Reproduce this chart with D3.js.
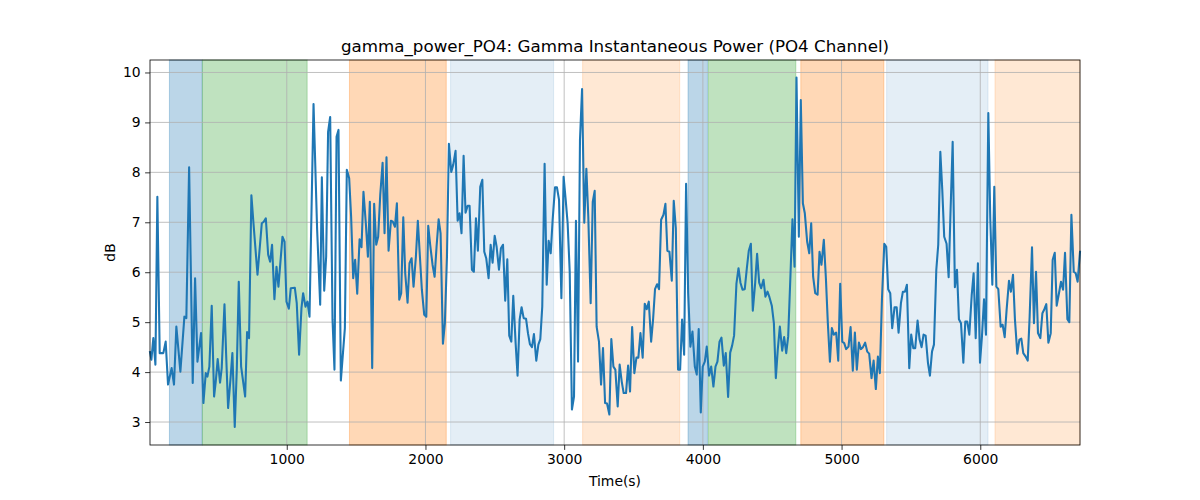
<!DOCTYPE html>
<html>
<head>
<meta charset="utf-8">
<script src="https://cdn.jsdelivr.net/npm/d3@7"></script>
<style>
  html, body { margin: 0; padding: 0; background: #fff; }
  svg { display: block; font-family: "DejaVu Sans", sans-serif; }
</style>
</head>
<body>
<div id="chart"></div>
<script>
// ========== DATA ==========
const times = [
  14, 24, 38, 53, 67, 84, 110, 127, 144, 170, 187, 204, 233, 262, 276, 296, 322, 339, 356, 382,
  399, 416, 428, 442, 459, 476, 488, 502, 519, 531, 551, 563, 577, 594, 608, 625, 640, 654, 671, 700,
  714, 728, 745, 760, 789, 820, 834, 849, 866, 880, 894, 911, 926, 940, 969, 984, 998, 1015, 1029, 1058,
  1072, 1089, 1106, 1118, 1135, 1149, 1164, 1193, 1219, 1241, 1253, 1270, 1284, 1298, 1313, 1330, 1344, 1359, 1373, 1390,
  1419, 1433, 1450, 1464, 1479, 1493, 1508, 1525, 1539, 1553, 1570, 1585, 1599, 1616, 1630, 1645, 1659, 1674, 1691, 1705,
  1719, 1734, 1751, 1765, 1780, 1794, 1811, 1825, 1840, 1854, 1871, 1885, 1900, 1914, 1931, 1945, 1960, 1974, 1991, 2006,
  2020, 2034, 2051, 2066, 2080, 2095, 2109, 2126, 2140, 2155, 2169, 2186, 2200, 2217, 2232, 2246, 2260, 2275, 2289, 2304,
  2318, 2335, 2349, 2364, 2378, 2395, 2410, 2424, 2438, 2455, 2470, 2484, 2499, 2513, 2530, 2544, 2559, 2575, 2590, 2604,
  2619, 2633, 2650, 2664, 2679, 2693, 2708, 2725, 2739, 2753, 2768, 2782, 2799, 2814, 2828, 2842, 2859, 2874, 2888, 2903,
  2917, 2934, 2948, 2963, 2980, 2996, 3011, 3025, 3040, 3056, 3071, 3085, 3100, 3114, 3129, 3145, 3160, 3174, 3191, 3206,
  3220, 3234, 3251, 3266, 3280, 3295, 3309, 3326, 3340, 3355, 3369, 3386, 3400, 3415, 3429, 3446, 3461, 3475, 3490, 3506,
  3521, 3535, 3550, 3566, 3581, 3595, 3610, 3627, 3641, 3655, 3670, 3684, 3699, 3716, 3730, 3744, 3759, 3776, 3790, 3805,
  3821, 3836, 3850, 3865, 3879, 3894, 3910, 3925, 3942, 3956, 3970, 3985, 3999, 4014, 4028, 4045, 4060, 4076, 4091, 4105,
  4120, 4134, 4151, 4165, 4182, 4197, 4211, 4225, 4242, 4257, 4271, 4286, 4302, 4317, 4331, 4346, 4360, 4377, 4391, 4406,
  4420, 4437, 4451, 4466, 4480, 4497, 4512, 4526, 4540, 4555, 4572, 4586, 4601, 4615, 4632, 4646, 4661, 4675, 4692, 4706,
  4721, 4735, 4752, 4767, 4781, 4795, 4810, 4827, 4841, 4855, 4872, 4887, 4901, 4916, 4930, 4944, 4961, 4976, 4990, 5005,
  5019, 5033, 5050, 5065, 5081, 5096, 5110, 5125, 5139, 5154, 5170, 5185, 5199, 5216, 5231, 5247, 5262, 5276, 5291, 5308,
  5322, 5336, 5351, 5365, 5382, 5397, 5411, 5428, 5442, 5457, 5471, 5488, 5502, 5517, 5531, 5548, 5562, 5577, 5591, 5606,
  5623, 5637, 5652, 5666, 5683, 5697, 5712, 5726, 5740, 5757, 5772, 5786, 5801, 5817, 5832, 5846, 5861, 5878, 5892, 5906,
  5921, 5938, 5952, 5967, 5983, 5998, 6012, 6027, 6041, 6058, 6072, 6087, 6101, 6116, 6130, 6147, 6161, 6176, 6190, 6207,
  6221, 6236, 6250, 6267, 6282, 6296, 6310, 6327, 6342, 6356, 6373, 6387, 6402, 6416, 6433, 6448, 6462, 6476, 6491, 6508,
  6522, 6537, 6551, 6568, 6582, 6597, 6611, 6628, 6642, 6657, 6674, 6688, 6702, 6719
];

const power = [
  4.40, 4.25, 4.68, 4.15, 7.51, 4.38, 4.38, 4.61, 3.75, 4.08, 3.75, 4.91, 4.01, 5.11, 5.08, 8.10, 3.78, 5.88, 4.21, 4.78,
  3.38, 3.98, 3.91, 4.11, 5.33, 3.51, 3.81, 4.26, 3.79, 4.08, 5.36, 4.35, 3.28, 3.85, 4.38, 2.90, 4.08, 5.81, 4.11, 3.51,
  4.80, 4.68, 7.54, 6.98, 5.95, 6.98, 7.01, 7.08, 6.35, 6.21, 6.55, 5.46, 6.11, 5.71, 6.71, 6.61, 5.41, 5.27, 5.68, 5.69,
  5.38, 4.35, 5.28, 5.58, 5.31, 5.41, 5.11, 9.37, 6.85, 5.35, 7.90, 5.63, 6.31, 8.81, 9.11, 5.05, 4.05, 8.71, 8.85, 3.83,
  4.88, 8.05, 7.88, 7.11, 5.88, 6.25, 5.57, 6.66, 6.50, 7.61, 6.98, 6.31, 7.41, 4.08, 7.37, 6.55, 6.71, 7.55, 8.19, 6.78,
  8.30, 6.43, 7.03, 7.01, 6.91, 7.38, 5.45, 5.58, 7.10, 5.98, 5.39, 6.18, 6.28, 5.71, 6.31, 7.03, 6.31, 5.65, 5.15, 5.11,
  6.93, 6.55, 6.15, 5.91, 6.51, 7.06, 6.78, 4.57, 4.98, 6.31, 8.57, 8.01, 8.15, 8.43, 7.03, 7.18, 6.78, 8.33, 7.19, 7.33,
  7.33, 6.05, 6.01, 7.08, 6.43, 7.71, 7.85, 6.41, 6.28, 5.88, 6.55, 6.19, 6.73, 6.51, 6.05, 6.48, 6.55, 5.43, 6.26, 4.73,
  4.61, 5.53, 4.58, 3.93, 5.05, 5.30, 5.08, 5.07, 4.78, 4.56, 4.50, 4.76, 4.23, 4.55, 4.66, 5.31, 8.17, 5.75, 6.63, 6.38,
  7.05, 7.70, 7.70, 7.45, 5.48, 7.91, 7.45, 6.98, 6.01, 3.25, 3.51, 7.03, 4.21, 8.65, 9.67, 6.99, 8.07, 7.11, 5.38, 7.41,
  7.63, 4.91, 4.61, 3.75, 4.48, 3.38, 3.37, 3.15, 4.66, 4.11, 4.05, 3.31, 4.15, 3.81, 3.58, 3.58, 4.13, 3.61, 4.90, 3.98,
  4.29, 4.29, 4.78, 4.29, 5.37, 5.26, 5.41, 4.61, 5.05, 5.66, 5.76, 5.66, 7.05, 7.15, 7.37, 6.43, 6.41, 5.83, 7.43, 6.88,
  4.05, 4.05, 5.05, 4.35, 7.77, 5.58, 4.51, 4.81, 4.11, 3.95, 4.86, 3.19, 4.11, 4.21, 4.51, 3.93, 4.11, 3.71, 4.11, 4.21,
  4.61, 4.69, 4.13, 4.38, 3.50, 4.39, 4.53, 4.73, 5.77, 6.08, 5.79, 5.65, 5.66, 6.08, 6.43, 6.57, 5.23, 5.78, 6.37, 5.79,
  5.68, 5.85, 5.51, 5.61, 5.50, 5.33, 4.98, 3.88, 4.45, 4.91, 4.43, 4.70, 4.38, 4.71, 5.98, 7.06, 6.11, 9.90, 6.71, 9.45,
  7.38, 7.18, 6.61, 6.38, 6.98, 5.91, 5.58, 5.55, 6.41, 6.15, 6.65, 5.88, 4.98, 4.21, 4.88, 4.75, 4.79, 4.23, 5.77, 4.61,
  4.58, 4.46, 4.51, 4.90, 4.03, 4.79, 4.05, 4.59, 4.46, 4.50, 4.59, 4.41, 4.37, 3.88, 4.23, 3.66, 4.31, 3.98, 5.45, 6.57,
  6.51, 5.66, 5.58, 4.88, 5.30, 5.30, 4.79, 5.38, 5.61, 5.61, 5.75, 4.08, 4.75, 4.48, 4.48, 5.03, 4.66, 4.50, 4.75, 4.73,
  4.18, 3.93, 4.41, 4.55, 6.05, 6.55, 8.41, 7.65, 6.71, 6.57, 5.90, 7.25, 8.61, 5.70, 6.05, 5.06, 4.98, 4.19, 5.01, 5.01,
  4.75, 5.53, 5.98, 4.68, 6.18, 4.19, 4.71, 5.46, 4.75, 9.19, 7.08, 5.75, 7.71, 5.71, 5.66, 4.91, 4.95, 4.70, 5.25, 5.83,
  5.61, 5.95, 5.05, 4.37, 4.65, 4.67, 4.38, 4.31, 4.23, 5.11, 6.50, 4.98, 6.01, 4.78, 4.68, 5.18, 5.26, 5.36, 4.59, 4.78,
  6.25, 6.39, 5.33, 5.59, 5.81, 5.65, 6.39, 5.06, 5.00, 7.15, 6.01, 5.98, 5.81, 6.41
];

// shaded segments (start / end in seconds, and which kind of segment)
const bandStart = [154, 392, 1452, 2181, 3133, 3893, 4040, 4706, 5325, 6106];
const bandEnd   = [390, 1147, 2150, 2924, 3833, 4033, 4670, 5305, 6056, 6719];
const bandKind  = ["A", "B", "C", "D", "E", "A", "B", "C", "D", "E"];

const xTicks = [1000, 2000, 3000, 4000, 5000, 6000];
const yTicks = [3, 4, 5, 6, 7, 8, 9, 10];

// ========== STYLE ==========
const kindColor = { A: "#1f77b4", B: "#2ca02c", C: "#ff7f0e", D: "#1f77b4", E: "#ff7f0e" };
const kindAlpha = { A: 0.3, B: 0.3, C: 0.3, D: 0.12, E: 0.18 };

const W = 1200, H = 500;
const margin = { left: 150, right: 120, top: 60, bottom: 55 };
const fontPx = 13.9;

const svg = d3.select("#chart").append("svg")
  .attr("width", W).attr("height", H);

const x = d3.scaleLinear().domain([14, 6719]).range([margin.left, W - margin.right]);
const y = d3.scaleLinear().domain([2.54, 10.25]).range([H - margin.bottom, margin.top]);

// bands
svg.append("g").selectAll("rect")
  .data(bandStart.map((s, i) => ({ s, e: bandEnd[i], k: bandKind[i] })))
  .join("rect")
  .attr("x", d => x(d.s))
  .attr("y", margin.top)
  .attr("width", d => x(d.e) - x(d.s))
  .attr("height", H - margin.bottom - margin.top)
  .attr("fill", d => kindColor[d.k])
  .attr("fill-opacity", d => kindAlpha[d.k])
  .attr("stroke", d => kindColor[d.k])
  .attr("stroke-opacity", d => kindAlpha[d.k])
  .attr("stroke-width", 1);

// grid
const grid = svg.append("g").attr("stroke", "#b0b0b0").attr("stroke-width", 0.8);
xTicks.forEach(t => {
  grid.append("line")
    .attr("x1", x(t)).attr("x2", x(t))
    .attr("y1", margin.top).attr("y2", H - margin.bottom);
});
yTicks.forEach(t => {
  grid.append("line")
    .attr("x1", margin.left).attr("x2", W - margin.right)
    .attr("y1", y(t)).attr("y2", y(t));
});

// line
const line = d3.line()
  .x((d, i) => x(times[i]))
  .y(d => y(d));

svg.append("path")
  .datum(power)
  .attr("d", line)
  .attr("fill", "none")
  .attr("stroke", "#1f77b4")
  .attr("stroke-width", 2.08)
  .attr("stroke-linejoin", "round")
  .attr("stroke-linecap", "square");

// axes
const xAxis = svg.append("g")
  .attr("transform", `translate(0,${H - margin.bottom})`)
  .call(d3.axisBottom(x).tickValues(xTicks).tickSize(4.9).tickPadding(4.5).tickFormat(d3.format("d")));
const yAxis = svg.append("g")
  .attr("transform", `translate(${margin.left},0)`)
  .call(d3.axisLeft(y).tickValues(yTicks).tickSize(4.9).tickPadding(4.5));

[xAxis, yAxis].forEach(a => {
  a.select(".domain").remove();
  a.selectAll(".tick line").attr("stroke", "#000").attr("stroke-width", 0.8);
  a.selectAll(".tick text")
    .attr("fill", "#000")
    .attr("font-family", "DejaVu Sans")
    .attr("font-size", fontPx + "px");
});

// frame
svg.append("rect")
  .attr("x", margin.left).attr("y", margin.top)
  .attr("width", W - margin.left - margin.right)
  .attr("height", H - margin.top - margin.bottom)
  .attr("fill", "none")
  .attr("stroke", "#000").attr("stroke-width", 0.8);

// titles
svg.append("text")
  .attr("x", (margin.left + W - margin.right) / 2).attr("y", 52)
  .attr("text-anchor", "middle")
  .attr("font-size", "16.7px")
  .text("gamma_power_PO4: Gamma Instantaneous Power (PO4 Channel)");

svg.append("text")
  .attr("x", (margin.left + W - margin.right) / 2).attr("y", 486)
  .attr("text-anchor", "middle")
  .attr("font-size", fontPx + "px")
  .text("Time(s)");

svg.append("text")
  .attr("transform", `translate(115,${(margin.top + H - margin.bottom) / 2}) rotate(-90)`)
  .attr("text-anchor", "middle")
  .attr("font-size", fontPx + "px")
  .text("dB");
</script>
</body>
</html>
